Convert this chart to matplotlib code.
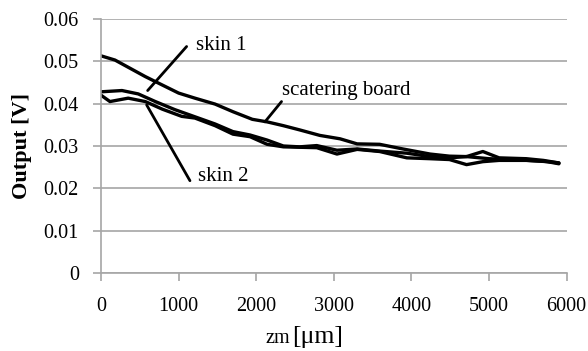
import matplotlib
matplotlib.use("Agg")
import matplotlib.pyplot as plt

plt.rcParams['font.family'] = ['Liberation Serif', 'DejaVu Serif']

# distance Zm [um] and output [V] for each target
z_board = [0, 180, 350, 570, 790, 1000, 1210, 1470, 1700, 1950, 2140, 2350,
           2560, 2820, 3080, 3300, 3590, 3890, 4240, 4490, 4710, 5000, 5250,
           5500, 5750, 5900]
v_board = [0.0513, 0.0503, 0.0486, 0.0464, 0.0444, 0.0425, 0.0413, 0.0399,
           0.0381, 0.0363, 0.0357, 0.0348, 0.0338, 0.0325, 0.0317, 0.0305,
           0.0304, 0.0293, 0.0281, 0.0276, 0.0275, 0.0270, 0.0268, 0.0266,
           0.0263, 0.0258]

z_skin1 = [0, 270, 480, 700, 950, 1210, 1470, 1700, 1920, 2140, 2350, 2560,
           2780, 3040, 3300, 3590, 3940, 4240, 4490, 4710, 4920, 5130, 5480,
           5700, 5900]
v_skin1 = [0.0428, 0.0431, 0.0423, 0.0405, 0.0386, 0.0369, 0.0352, 0.0334,
           0.0326, 0.0314, 0.0300, 0.0298, 0.0301, 0.0290, 0.0293, 0.0288,
           0.0283, 0.0275, 0.0272, 0.0275, 0.0287, 0.0272, 0.0270, 0.0266,
           0.0260]

z_skin2 = [0, 115, 350, 570, 790, 1040, 1210, 1470, 1700, 1920, 2140, 2350,
           2560, 2780, 3040, 3300, 3590, 3940, 4240, 4490, 4710, 4920, 5130,
           5480, 5700, 5900]
v_skin2 = [0.0420, 0.0405, 0.0413, 0.0405, 0.0387, 0.0370, 0.0366, 0.0348,
           0.0328, 0.0322, 0.0304, 0.0298, 0.0297, 0.0296, 0.0281, 0.0292,
           0.0287, 0.0272, 0.0270, 0.0268, 0.0256, 0.0263, 0.0266, 0.0266,
           0.0264, 0.0260]

x_ticks = [0, 1000, 2000, 3000, 4000, 5000, 6000]
y_ticks = [0, 0.01, 0.02, 0.03, 0.04, 0.05, 0.06]
y_tick_labels = ['0', '0.01', '0.02', '0.03', '0.04', '0.05', '0.06']

fig = plt.figure(figsize=(5.88, 3.51), dpi=100)
ax = fig.add_axes([0.1718, 0.2222, 0.7919, 0.7237])

grid_col = '#a6a6a6'
line_kw = dict(color='black', lw=2.4, solid_joinstyle='round', solid_capstyle='round')
ax.plot(z_board, v_board, **line_kw)
ax.plot(z_skin1, v_skin1, **line_kw)
ax.plot(z_skin2, v_skin2, **line_kw)

ax.set_xlim(0, 6000)
ax.set_ylim(0, 0.06)
ax.set_xticks(x_ticks)
ax.set_yticks(y_ticks)
ax.set_yticklabels(y_tick_labels)
ax.yaxis.grid(True, color=grid_col, lw=1.2)
ax.set_axisbelow(True)
for s in ('top', 'right'):
    ax.spines[s].set_visible(False)
for s in ('left', 'bottom'):
    ax.spines[s].set_color(grid_col)
    ax.spines[s].set_linewidth(1.2)
ax.tick_params(axis='both', colors=grid_col, labelcolor='black', labelsize=14.5,
               length=6, width=1.2, direction='out')
ax.tick_params(axis='x', pad=11)
ax.tick_params(axis='y', pad=10)

ax.set_ylabel('Output [V]', fontsize=16, fontweight='bold', labelpad=8)

# x-axis label: smaller "zm" followed by larger unit
fig.text(0.451, 0.023, 'zm', fontsize=14.5, ha='left', va='baseline')
fig.text(0.497, 0.023, '[μm]', fontsize=18.5, ha='left', va='baseline')

arrow_kw = dict(arrowstyle='-', color='black', lw=2.0, shrinkA=0, shrinkB=0)
ax.annotate('', xy=(601, 0.0431), xytext=(1103, 0.0535), arrowprops=arrow_kw)
ax.text(1225, 0.0537, 'skin 1', fontsize=15, va='center', ha='left')

ax.annotate('', xy=(588, 0.0397), xytext=(1146, 0.0218), arrowprops=arrow_kw)
ax.text(1255, 0.0227, 'skin 2', fontsize=15, va='center', ha='left')

ax.annotate('', xy=(2112, 0.0357), xytext=(2326, 0.0405), arrowprops=arrow_kw)
ax.text(2330, 0.0430, 'scatering board', fontsize=15, va='center', ha='left')

fig.savefig('out.png', dpi=100)
